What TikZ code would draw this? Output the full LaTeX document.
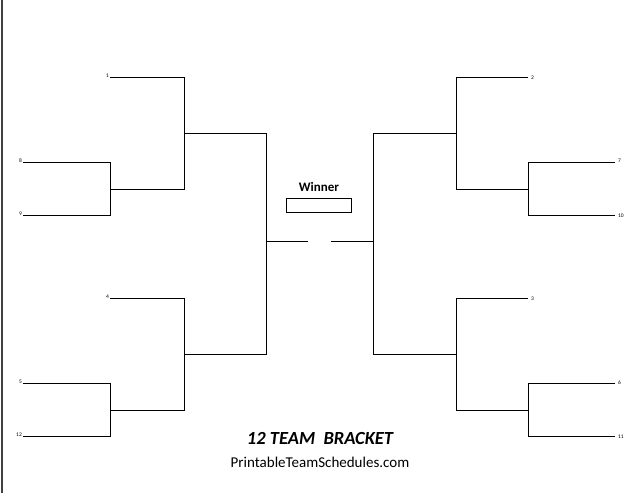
\documentclass[tikz,border=0pt]{standalone}
\usepackage{fontspec}
\setmainfont{Carlito}
\begin{document}
\begin{tikzpicture}[x=1pt,y=-1pt,br/.style={line width=1pt,black},seed/.style={font=\fontsize{5.5}{5.5}\selectfont,inner sep=1pt}]
\useasboundingbox (0,0) rectangle (638,493);
\draw[line width=1.5pt,black!75] (2,0) -- (2,493);
% left
\draw[br] (110,77) -- (184,77) -- (184,189) -- (110,189);
\draw[br] (23,162) -- (110,162) -- (110,215) -- (23,215);
\draw[br] (184,133) -- (266,133) -- (266,354) -- (184,354);
\draw[br] (110,298) -- (184,298) -- (184,410) -- (110,410);
\draw[br] (23,383) -- (110,383) -- (110,436) -- (23,436);
\draw[br] (266,241) -- (308,241);
% right
\draw[br] (528,77) -- (456,77) -- (456,189) -- (528,189);
\draw[br] (615,162) -- (528,162) -- (528,215) -- (615,215);
\draw[br] (456,133) -- (373,133) -- (373,354) -- (456,354);
\draw[br] (528,298) -- (456,298) -- (456,410) -- (528,410);
\draw[br] (615,383) -- (528,383) -- (528,436) -- (615,436);
\draw[br] (331,241) -- (373,241);
% labels
\node[seed,anchor=east] (s1) at (110,76) {1};
\node[seed,anchor=east] (s8) at (23,161) {8};
\node[seed,anchor=east] (s9) at (23,214) {9};
\node[seed,anchor=east] (s4) at (110,297) {4};
\node[seed,anchor=east] (s5) at (23,382) {5};
\node[seed,anchor=east] (s12) at (23,435) {12};
\node[seed,anchor=west] (s2) at (530,78) {2};
\node[seed,anchor=west] (s7) at (617,161) {7};
\node[seed,anchor=west] (s10) at (617,216) {10};
\node[seed,anchor=west] (s3) at (530,299) {3};
\node[seed,anchor=west] (s6) at (617,383) {6};
\node[seed,anchor=west] (s11) at (617,437) {11};
\node[font=\bfseries\fontsize{13}{13}\selectfont] (w) at (319,187) {Winner};
\draw[line width=0.8pt] (286,198) rectangle (351,212);
\node[font=\bfseries\itshape\fontsize{18.5}{18.5}\selectfont] (t) at (320,438) {12 TEAM\ \ BRACKET};
\node[font=\fontsize{15}{15}\selectfont] (u) at (320,462) {PrintableTeamSchedules.com};
\end{tikzpicture}
\end{document}
